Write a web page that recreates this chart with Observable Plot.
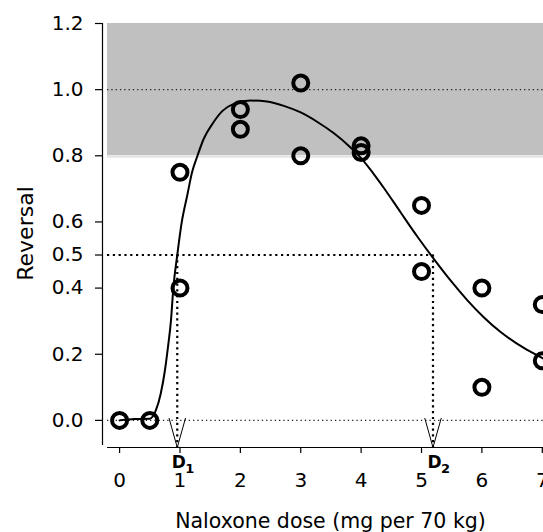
<!DOCTYPE html>
<html><head><meta charset="utf-8">
<script src="https://cdn.jsdelivr.net/npm/d3@7"></script>
<script src="https://cdn.jsdelivr.net/npm/@observablehq/plot@0.6"></script>
<style>
body{margin:0;background:#fff;overflow:hidden;}
</style>
</head><body><div id="chart"></div>
<script>
// Observed reversal per naloxone dose
const doseX = [0, 0.5, 1, 1, 2, 2, 3, 3, 4, 4, 5, 5, 6, 6, 7, 7];
const reversalY = [0, 0, 0.75, 0.40, 0.94, 0.88, 1.02, 0.80, 0.83, 0.81, 0.65, 0.45, 0.40, 0.10, 0.35, 0.18];

// Fitted curve
const curveX = [0, 0.25, 0.5, 0.6, 0.68, 0.75, 0.8, 0.85, 0.89, 0.955, 1.03, 1.12, 1.2, 1.29, 1.39, 1.55, 1.7, 1.89, 2.17, 2.44, 2.72, 3.0, 3.27, 3.55, 3.82, 4.0, 4.2, 4.38, 4.65, 4.93, 5.2, 5.48, 5.76, 6.03, 6.31, 6.58, 6.91, 7.02];
const curveY = [0, 0.004, 0.005, 0.03, 0.08, 0.15, 0.22, 0.3, 0.4, 0.5, 0.6, 0.68, 0.75, 0.8, 0.85, 0.9, 0.935, 0.957, 0.967, 0.964, 0.951, 0.931, 0.903, 0.868, 0.826, 0.793, 0.747, 0.702, 0.630, 0.556, 0.489, 0.423, 0.363, 0.312, 0.267, 0.232, 0.197, 0.187];

const xTicks = [0, 1, 2, 3, 4, 5, 6, 7];
const yTicks = [0, 0.2, 0.4, 0.5, 0.6, 0.8, 1.0, 1.2];
const dValues = [0.955, 5.19];
const dSubs = ["1", "2"];
const bandLow = 0.8, bandHigh = 1.2;
const halfLevel = 0.5, fullLevel = 1.0, zeroLevel = 0;

const xDomain = [-0.283, 7.02];
const yDomain = [-0.082, 1.2];
const frameLeft = -0.2;
const yAxisBottom = -0.076;
const headHalf = 0.135, headTop = 0.006;

const points = doseX.map((x, i) => ({x, y: reversalY[i]}));
const curve = curveX.map((x, i) => ({x, y: curveY[i]}));
const heads = dValues.flatMap((d, k) => [
  {k, x: d - headHalf, y: headTop},
  {k, x: d, y: yDomain[0]},
  {k, x: d + headHalf, y: headTop}
]);
const dLabels = dValues.map((d, i) => ({x: d, sub: dSubs[i]}));
const font = "DejaVu Sans";

const chart = Plot.plot({
  width: 543,
  height: 532,
  marginLeft: 102,
  marginRight: 0,
  marginTop: 23,
  marginBottom: 85,
  x: {domain: xDomain, label: null},
  y: {domain: yDomain, label: null},
  style: {fontFamily: font, fontSize: "20px", background: "white", color: "black", overflow: "visible"},
  marks: [
    Plot.rect([0], {x1: () => frameLeft, x2: () => xDomain[1], y1: () => bandLow, y2: () => bandHigh, fill: "#c0c0c0"}),
    Plot.ruleY([bandLow], {x1: () => frameLeft, x2: () => xDomain[1], stroke: "#e4e4e4", strokeWidth: 2, dy: 1}),
    Plot.ruleY([fullLevel, zeroLevel], {x1: () => frameLeft, x2: () => xDomain[1], stroke: "#222", strokeWidth: 1.1, strokeDasharray: "1.3,3"}),
    Plot.ruleY([halfLevel], {x1: () => frameLeft, x2: () => dValues[1], stroke: "black", strokeWidth: 2.2, strokeDasharray: "2.2,3.6"}),
    Plot.ruleX(dValues, {y1: () => halfLevel, y2: () => yDomain[0], stroke: "black", strokeWidth: 2.2, strokeDasharray: "2.2,3.6"}),
    Plot.line(heads, {x: "x", y: "y", z: "k", stroke: "black", strokeWidth: 1}),
    Plot.line(curve, {x: "x", y: "y", curve: "monotone-x", stroke: "black", strokeWidth: 2}),
    Plot.dot(points, {x: "x", y: "y", r: 7.5, stroke: "black", strokeWidth: 4, fill: "none"}),
    Plot.ruleX([xDomain[0]], {y1: () => yAxisBottom, y2: () => bandHigh, stroke: "black", strokeWidth: 1.2}),
    Plot.ruleY([yDomain[0]], {x1: () => frameLeft, x2: () => xDomain[1], stroke: "black", strokeWidth: 1.2}),
    Plot.axisY({ticks: yTicks, tickFormat: d3.format(".1f"), tickSize: 7, tickPadding: 12, label: null, strokeWidth: 1.2, fontSize: 20}),
    Plot.axisX({ticks: xTicks, tickFormat: d => String(d), tickSize: 6, tickPadding: 19, label: null, strokeWidth: 1.2, fontSize: 20}),
    Plot.text(dLabels, {x: "x", y: () => yDomain[0], text: () => "D", fontWeight: "bold", fontSize: 17, lineAnchor: "top", dy: 8, dx: 1.5}),
    Plot.text(dLabels, {x: "x", y: () => yDomain[0], text: "sub", fontWeight: "bold", fontSize: 13, lineAnchor: "top", dy: 16, dx: 12.5}),
    Plot.text(["Reversal"], {frameAnchor: "left", text: d => d, rotate: -90, lineAnchor: "bottom", textAnchor: "middle", dx: -70, dy: -2, fontSize: 22}),
    Plot.text(["Naloxone dose (mg per 70 kg)"], {frameAnchor: "bottom", text: d => d, lineAnchor: "top", dy: 66, dx: 7.5, fontSize: 20.5})
  ]
});
document.getElementById("chart").appendChild(chart);
</script>
</body></html>
